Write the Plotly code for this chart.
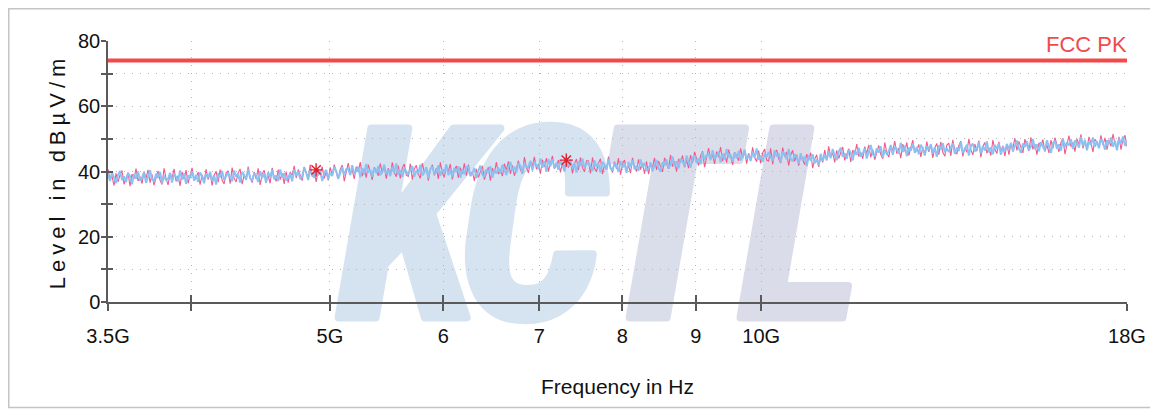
import numpy as np
import plotly.graph_objects as go

# ---------------- data ----------------
f_start = 3.5e9
f_stop = 18e9

blue_level = [
    39.1, 37.1, 39.8, 37.9, 36.4, 38.9, 40.2, 37.4, 38.5, 36.7, 39.5, 38.6, 36.1, 39.2, 37.8, 40.0, 37.2, 38.1, 39.7, 36.5, 38.8, 40.4, 37.6, 36.9, 39.3, 38.0, 39.9, 36.3, 38.7, 37.4,
    37.7, 39.6, 36.6, 39.2, 38.4, 37.0, 40.3, 37.5, 39.4, 36.2, 38.8, 37.9, 40.1, 37.3, 39.0, 36.8, 39.7, 38.5, 36.4, 39.3, 38.0, 39.9, 37.1, 38.9, 36.0, 39.5, 38.2, 40.2, 37.4, 38.6,
    39.7, 38.1, 37.0, 40.3, 38.4, 39.4, 36.6, 39.9, 39.0, 37.5, 40.8, 37.9, 37.2, 39.5, 38.7, 36.8, 40.1, 38.0, 39.3, 36.5, 39.8, 38.3, 40.4, 37.6, 38.8, 37.1, 40.6, 38.2, 39.5, 37.3,
    38.1, 39.4, 37.0, 40.6, 38.7, 40.1, 37.7, 38.4, 41.2, 39.6, 37.4, 40.6, 39.0, 38.1, 40.9, 38.8, 40.2, 37.1, 39.6, 40.5, 37.8, 39.6, 38.6, 41.4, 40.2, 37.8, 39.4, 41.4, 38.8, 40.8,
    40.8, 38.9, 41.9, 39.3, 40.1, 41.5, 38.2, 41.0, 39.1, 42.3, 39.7, 40.6, 38.4, 41.2, 39.5, 41.7, 38.8, 40.0, 42.1, 39.2, 40.5, 38.6, 41.4, 39.6, 42.5, 39.0, 40.3, 38.3, 41.1, 39.9,
    39.0, 40.6, 41.7, 38.4, 40.3, 39.3, 42.1, 38.8, 39.7, 41.2, 37.9, 40.8, 41.5, 39.2, 40.0, 41.9, 38.6, 40.7, 39.4, 42.2, 38.9, 40.4, 38.3, 41.1, 39.9, 41.6, 38.1, 40.5, 39.2, 41.4,
    41.4, 38.6, 39.5, 41.1, 37.9, 40.2, 41.8, 39.0, 38.3, 40.7, 39.6, 41.6, 38.1, 40.6, 39.4, 41.2, 39.3, 42.1, 40.3, 38.9, 41.5, 42.9, 40.2, 41.4, 39.7, 42.6, 41.8, 39.4, 42.6, 41.3,
    41.4, 43.3, 40.3, 42.9, 42.1, 40.7, 44.0, 41.2, 43.1, 39.9, 43.8, 41.6, 43.8, 41.0, 42.7, 40.5, 43.4, 42.2, 40.1, 43.0, 41.7, 43.6, 40.8, 42.6, 39.7, 43.2, 41.9, 43.9, 41.1, 42.3,
    42.8, 41.2, 40.1, 43.4, 41.5, 42.5, 39.7, 43.0, 42.1, 40.6, 43.9, 41.0, 40.3, 42.6, 41.8, 39.9, 43.2, 41.1, 42.4, 39.6, 42.9, 41.4, 43.5, 40.7, 41.9, 40.2, 43.7, 41.3, 42.6, 40.4,
    40.8, 42.8, 40.1, 42.0, 43.5, 41.1, 39.9, 42.8, 41.8, 43.7, 41.0, 42.0, 44.6, 41.6, 43.1, 41.0, 43.9, 43.1, 41.6, 44.9, 42.7, 41.2, 44.1, 44.9, 42.6, 44.0, 42.2, 45.9, 43.6, 45.0,
    45.4, 43.5, 46.5, 43.9, 44.7, 46.1, 42.8, 45.6, 43.7, 46.9, 44.3, 45.2, 43.0, 45.8, 44.1, 46.3, 43.4, 44.6, 46.7, 43.8, 45.1, 43.2, 46.0, 44.2, 47.1, 43.6, 44.9, 42.9, 45.7, 44.5,
    45.9, 44.3, 43.2, 46.5, 44.6, 45.6, 42.8, 46.1, 45.2, 43.7, 46.9, 43.9, 43.1, 45.3, 44.4, 42.4, 45.6, 43.4, 44.6, 41.7, 44.9, 43.3, 45.3, 42.5, 43.7, 41.9, 45.4, 43.2, 45.1, 43.5,
    46.1, 44.1, 46.9, 45.0, 43.5, 46.0, 47.3, 44.5, 45.6, 43.9, 46.7, 45.8, 43.4, 46.5, 45.1, 47.3, 44.5, 45.5, 47.1, 44.0, 46.5, 48.1, 45.3, 44.6, 47.1, 45.8, 47.7, 44.2, 46.6, 45.4,
    46.2, 48.1, 45.1, 47.7, 46.9, 45.5, 48.8, 46.0, 47.9, 44.7, 47.3, 46.4, 48.6, 45.8, 47.5, 45.3, 48.2, 47.0, 44.9, 47.8, 46.5, 48.4, 45.6, 47.4, 44.5, 48.0, 46.7, 48.7, 45.9, 47.1,
    46.0, 47.6, 48.7, 45.4, 47.3, 46.3, 49.1, 45.8, 46.7, 48.2, 44.9, 47.8, 48.5, 46.2, 47.0, 48.9, 45.6, 47.7, 46.4, 49.2, 45.9, 47.4, 45.3, 48.1, 46.9, 48.6, 45.1, 47.5, 46.2, 48.4,
    46.8, 48.8, 46.1, 48.0, 49.5, 47.0, 45.7, 48.6, 47.5, 49.3, 46.6, 47.6, 50.0, 46.9, 48.3, 46.2, 49.0, 47.6, 46.4, 49.6, 47.3, 45.7, 48.7, 49.4, 47.0, 48.3, 46.4, 50.0, 47.6, 48.9,
    48.0, 49.9, 46.9, 49.5, 48.7, 47.3, 50.6, 47.8, 49.7, 46.5, 49.1, 48.2, 50.4, 47.6, 49.3, 47.1, 50.0, 48.8, 46.7, 49.6, 48.4, 50.4, 47.6, 49.4, 46.5, 50.0, 48.7, 50.7, 47.9, 49.1,
]

red_level = [
    40.7, 37.5, 38.6, 35.7, 39.4, 36.8, 38.9, 40.3, 36.1, 38.2, 39.7, 35.5, 39.2, 37.7, 40.9, 37.1, 38.4, 36.3, 40.0, 37.9, 40.5, 36.6, 39.1, 35.8, 38.5, 40.2, 37.3, 36.0, 41.0, 37.8,
    35.9, 39.3, 38.0, 40.8, 37.0, 38.7, 35.6, 39.9, 37.7, 40.4, 36.4, 38.5, 41.1, 37.2, 38.1, 39.8, 36.0, 39.0, 36.9, 40.7, 37.5, 39.5, 35.7, 38.8, 40.1, 36.7, 40.6, 37.4, 36.2, 39.6,
    40.2, 36.3, 41.2, 37.9, 36.8, 39.5, 40.8, 36.1, 38.9, 37.4, 41.5, 38.2, 36.6, 39.9, 37.7, 41.0, 35.9, 39.2, 40.4, 37.1, 38.7, 36.4, 41.1, 38.3, 37.0, 40.6, 37.5, 39.4, 36.2, 40.0,
    36.6, 39.8, 38.8, 41.7, 38.0, 40.6, 38.6, 37.2, 41.4, 39.3, 37.9, 42.1, 38.4, 39.9, 36.8, 40.6, 39.3, 41.5, 37.8, 39.9, 37.3, 41.3, 38.8, 42.1, 39.5, 37.7, 40.7, 42.0, 37.0, 40.3,
    42.6, 39.2, 40.5, 37.7, 41.5, 39.8, 42.9, 38.6, 40.8, 38.1, 42.1, 40.0, 37.4, 41.3, 40.4, 38.7, 42.5, 39.5, 41.6, 37.8, 41.0, 39.0, 42.8, 39.7, 38.4, 41.8, 37.9, 41.1, 42.3, 38.9,
    38.5, 42.4, 37.5, 40.8, 41.9, 39.2, 37.9, 42.6, 39.8, 41.3, 37.2, 40.5, 42.1, 38.8, 41.0, 37.7, 42.8, 39.5, 38.3, 41.6, 40.0, 42.3, 37.6, 40.4, 41.7, 38.1, 41.2, 39.3, 42.5, 38.7,
    42.1, 38.9, 40.0, 37.1, 40.8, 38.2, 40.3, 41.7, 37.5, 39.6, 41.3, 37.2, 41.0, 39.6, 42.9, 39.2, 40.6, 38.6, 42.4, 40.4, 43.1, 39.3, 41.9, 38.7, 41.5, 43.3, 40.5, 39.3, 44.4, 41.3,
    39.6, 43.0, 41.7, 44.5, 40.7, 42.4, 39.3, 43.6, 41.4, 44.1, 40.1, 42.2, 44.8, 40.9, 41.8, 43.5, 39.7, 42.7, 40.6, 44.4, 41.2, 43.2, 39.4, 42.5, 43.8, 40.4, 44.3, 41.1, 39.9, 43.3,
    43.3, 39.4, 44.3, 41.0, 39.9, 42.6, 43.9, 39.2, 42.0, 40.5, 44.6, 41.3, 39.7, 43.0, 40.8, 44.1, 39.0, 42.3, 43.5, 40.2, 41.8, 39.5, 44.2, 41.4, 40.1, 43.7, 40.6, 42.5, 39.3, 43.1,
    39.2, 42.4, 41.3, 44.2, 40.5, 43.2, 41.2, 39.9, 44.2, 42.2, 40.8, 45.1, 41.5, 43.1, 40.0, 43.9, 42.7, 44.9, 41.3, 43.5, 41.0, 45.0, 42.6, 46.0, 43.4, 41.8, 44.8, 46.2, 41.3, 44.6,
    47.2, 43.8, 45.1, 42.3, 46.1, 44.4, 47.5, 43.2, 45.4, 42.7, 46.7, 44.6, 42.0, 45.9, 45.0, 43.3, 47.1, 44.1, 46.2, 42.4, 45.6, 43.6, 47.4, 44.3, 43.0, 46.4, 42.5, 45.7, 46.9, 43.5,
    43.2, 47.1, 42.2, 45.5, 46.6, 43.9, 42.6, 47.3, 44.5, 46.0, 41.8, 45.0, 46.5, 43.1, 45.2, 41.8, 45.0, 43.6, 42.1, 45.3, 43.6, 45.8, 41.0, 43.8, 45.1, 41.4, 44.5, 42.8, 46.6, 43.4,
    47.7, 44.5, 45.7, 42.8, 46.5, 44.0, 46.1, 47.5, 43.4, 45.5, 47.0, 42.9, 46.6, 45.1, 48.4, 44.6, 45.9, 43.9, 47.6, 45.5, 48.2, 44.3, 46.8, 43.6, 46.3, 48.0, 45.2, 43.9, 48.9, 45.8,
    44.4, 47.8, 46.5, 49.3, 45.5, 47.2, 44.1, 48.4, 46.2, 48.9, 44.9, 47.0, 49.6, 45.7, 46.6, 48.3, 44.5, 47.5, 45.4, 49.2, 46.0, 48.0, 44.2, 47.3, 48.6, 45.2, 49.1, 45.9, 44.7, 48.1,
    48.7, 44.8, 49.7, 46.4, 45.3, 48.0, 49.3, 44.6, 47.4, 45.9, 50.0, 46.7, 45.1, 48.4, 46.2, 49.5, 44.4, 47.7, 48.9, 45.6, 47.2, 44.9, 49.6, 46.8, 45.5, 49.1, 46.0, 47.9, 44.7, 48.5,
    45.2, 48.4, 47.3, 50.2, 46.5, 49.2, 47.1, 45.7, 49.9, 47.8, 46.3, 50.5, 46.8, 48.4, 45.2, 48.8, 47.8, 49.8, 46.1, 48.2, 45.7, 49.6, 47.1, 50.4, 47.7, 46.0, 48.9, 50.2, 45.3, 48.5,
    51.0, 47.6, 48.9, 46.1, 50.0, 48.3, 51.4, 47.1, 49.3, 46.7, 50.6, 48.8, 46.0, 49.9, 49.0, 47.4, 51.1, 48.1, 50.3, 46.7, 49.7, 47.7, 51.5, 48.4, 47.1, 50.6, 46.7, 49.9, 51.1, 47.7,
]

limit_freq = [3.5e9, 18e9]
limit_level = [74, 74]
limit_name = "FCC PK"

marker_freq = [4.89e9, 7.31e9]
marker_level = [40.5, 43.5]

x_tick_vals = [3.5e9, 4e9, 5e9, 6e9, 7e9, 8e9, 9e9, 10e9, 18e9]
x_tick_text = ["3.5G", "", "5G", "6", "7", "8", "9", "10G", "18G"]
y_tick_vals = [0, 10, 20, 30, 40, 50, 60, 70, 80]
y_tick_text = ["0", "", "20", "", "40", "", "60", "", "80"]

x_title = "Frequency in Hz"
y_title = "Level in dBµV/m"
watermark_letters = ["K", "C", "T", "L"]

# ---------------- figure ----------------
# measurement sweep grid (log spaced, one sample per trace value)
freq_blue = np.geomspace(f_start, f_stop, len(blue_level))
freq_red = np.geomspace(f_start, f_stop, len(red_level))

SANS = "Liberation Sans, Arial, sans-serif"
AXIS_COLOR = "#5a5a5a"
GRID_COLOR = "#b4b4b4"

W, H = 1150, 401
ML, MR, MT, MB = 100, 31, 33, 107
PW, PH = W - ML - MR, H - MT - MB

fig = go.Figure()

fig.add_trace(go.Scatter(x=freq_red, y=red_level, mode="lines",
                         line=dict(color="#ef5b8c", width=1.1),
                         showlegend=False, hoverinfo="skip"))
fig.add_trace(go.Scatter(x=freq_blue, y=blue_level, mode="lines",
                         line=dict(color="rgba(135,193,245,0.97)", width=2.0),
                         showlegend=False, hoverinfo="skip"))
fig.add_trace(go.Scatter(x=limit_freq, y=limit_level, mode="lines",
                         line=dict(color="#f24a4a", width=4),
                         showlegend=False, hoverinfo="skip"))
fig.add_trace(go.Scatter(x=marker_freq, y=marker_level, mode="markers",
                         marker=dict(symbol="asterisk-open", size=11, color="#e51d2a",
                                     line=dict(color="#e51d2a", width=1.4)),
                         showlegend=False, hoverinfo="skip"))

x_range = [np.log10(f_start), np.log10(f_stop)]

fig.update_layout(
    width=W, height=H,
    margin=dict(l=ML, r=MR, t=MT, b=MB),
    paper_bgcolor="white", plot_bgcolor="white",
    showlegend=False,
    xaxis=dict(
        type="log", range=x_range,
        tickvals=x_tick_vals, ticktext=x_tick_text,
        ticks="outside", ticklen=7, tickwidth=1.5, tickcolor=AXIS_COLOR,
        showline=True, linecolor=AXIS_COLOR, linewidth=1.5,
        showgrid=True, gridcolor=GRID_COLOR, gridwidth=1, griddash="1px,7px",
        zeroline=False,
        tickfont=dict(family=SANS, size=20, color="#111"),
        ticklabelstandoff=8,
        title=dict(text=x_title, font=dict(family=SANS, size=21, color="#111"), standoff=34),
    ),
    yaxis=dict(
        range=[0, 80],
        tickvals=y_tick_vals, ticktext=y_tick_text,
        ticks="outside", ticklen=5, tickwidth=1.5, tickcolor=AXIS_COLOR,
        showline=True, linecolor=AXIS_COLOR, linewidth=1.5,
        showgrid=True, gridcolor=GRID_COLOR, gridwidth=1, griddash="1px,7px",
        zeroline=False,
        tickfont=dict(family=SANS, size=20, color="#111"),
        ticklabelstandoff=-3,
        title=dict(text='<span style="letter-spacing:5px">' + y_title + '</span>',
                   font=dict(family=SANS, size=22, color="#111"), standoff=6),
    ),
    xaxis2=dict(
        type="log", range=x_range, overlaying="x", anchor="y", side="bottom",
        tickvals=x_tick_vals, ticks="inside", ticklen=7, tickwidth=1.5, tickcolor=AXIS_COLOR,
        showticklabels=False, showgrid=False, showline=False, zeroline=False,
    ),
    yaxis2=dict(
        range=[0, 80], overlaying="y", anchor="x", side="left",
        tickvals=y_tick_vals, ticks="inside", ticklen=5, tickwidth=1.5, tickcolor=AXIS_COLOR,
        showticklabels=False, showgrid=False, showline=False, zeroline=False,
    ),
)

# invisible point so the overlay tick axes render
fig.add_trace(go.Scatter(x=[f_start], y=[0], xaxis="x2", yaxis="y2", mode="markers",
                         marker=dict(opacity=0), showlegend=False, hoverinfo="skip"))

# limit label
fig.add_annotation(x=np.log10(limit_freq[-1]), y=limit_level[-1], xref="x", yref="y",
                   text=limit_name, showarrow=False, xanchor="right", yanchor="bottom",
                   yshift=2, xshift=2, font=dict(family=SANS, size=22, color="#f24a4a"))

# watermark behind the traces (single text, per-letter spacing and tint)
WM_FONT = "Roboto Condensed, Liberation Sans, Arial, sans-serif"
wm_spacing = ["-22px", "-13px", "7px", "0px"]
wm_colors = ["#d5e3f1", "#d6e3f0", "#d9deea", "#dadcea"]
wm_text = "".join(
    '<span style="letter-spacing:' + sp + ';fill:' + col + ';stroke:' + col +
    ';stroke-width:8px;stroke-linejoin:round">' + ch + '</span>'
    for ch, sp, col in zip(watermark_letters, wm_spacing, wm_colors))
xc = (592 - ML) / PW
yc = 0.362
fig.add_shape(type="rect", xref="paper", yref="paper",
              x0=xc - 0.3, x1=xc + 0.3, y0=yc - 0.2, y1=yc + 0.2,
              line=dict(width=0), fillcolor="rgba(0,0,0,0)", layer="below",
              label=dict(text=wm_text, textposition="middle center",
                         font=dict(family=WM_FONT, size=266, color="#d5e3f1",
                                   weight="bold", style="italic")))

# outer frame
fig.add_shape(type="rect", xref="paper", yref="paper",
              x0=(0.75 - ML) / PW, x1=(W - 0.75 - ML) / PW,
              y0=(MT + PH - (H - 1.5)) / PH, y1=(MT + PH - 0.75) / PH,
              line=dict(color="#c4c4c4", width=1.5), fillcolor="rgba(0,0,0,0)", layer="below")

fig.write_html("out.html")
